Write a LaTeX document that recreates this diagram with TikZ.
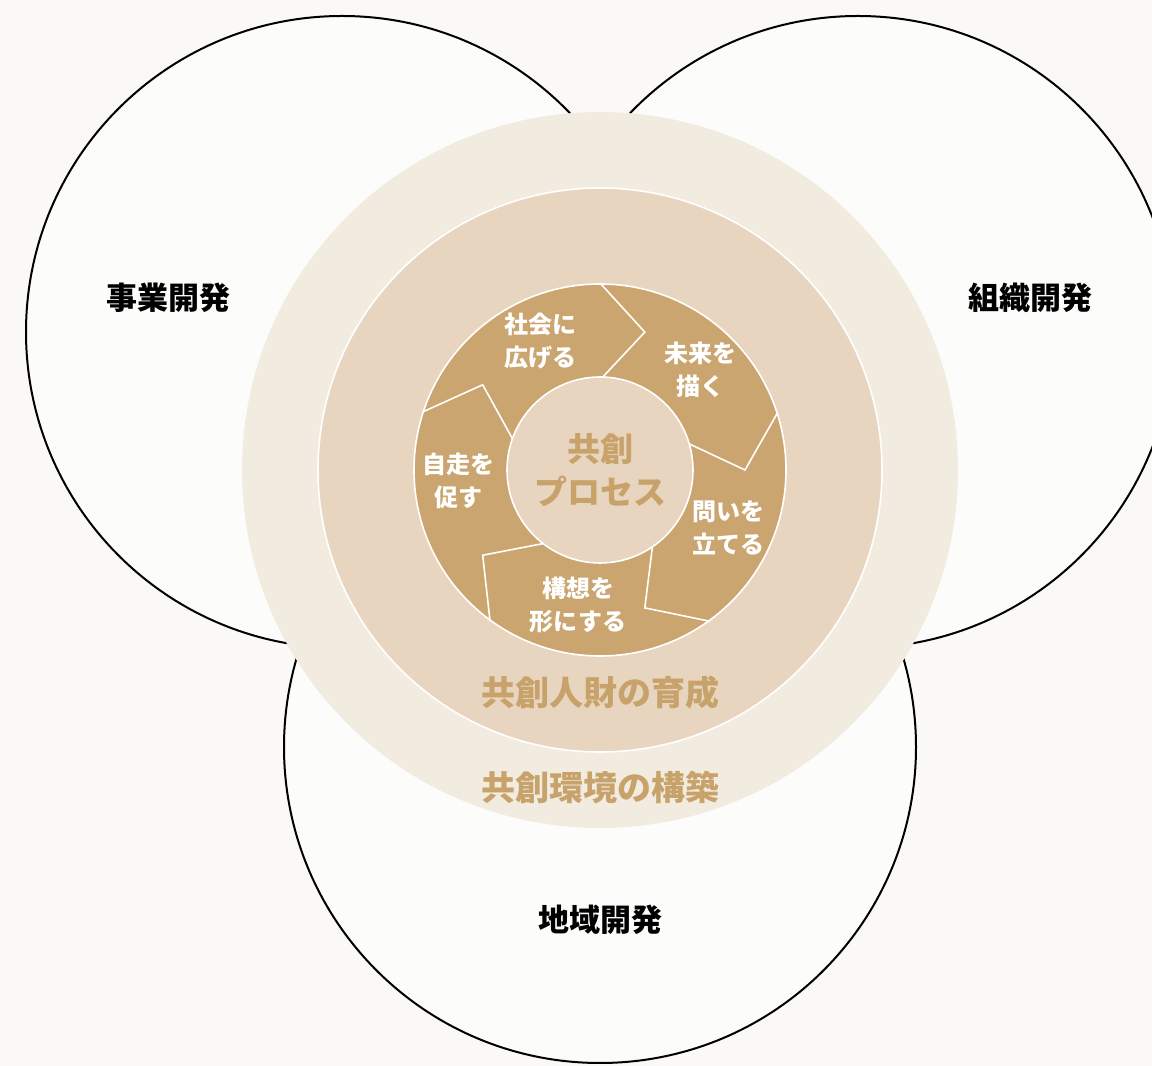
\documentclass[tikz,border=0pt]{standalone}
\usepackage{fontspec}
\setmainfont{Noto Sans CJK JP}
\definecolor{paper}{HTML}{FAF9F7}
\definecolor{fieldfill}{HTML}{FCFCFB}
\definecolor{ringout}{HTML}{F2EBDF}
\definecolor{ringmid}{HTML}{E8D5BF}
\definecolor{gold}{HTML}{CBA56F}
\definecolor{goldtext}{HTML}{C8A26B}
\tikzset{
    field/.style={draw=black, line width=2pt, fill=fieldfill},
    disc/.style={draw=white, line width=1.6pt},
    chevron/.style={draw=white, line width=1.6pt, line join=miter},
    fieldlabel/.style={font=\bfseries\fontsize{31}{36}\selectfont, text=black},
    ringlabel/.style={font=\bfseries\fontsize{34}{40}\selectfont, text=goldtext},
    corelabel/.style={font=\bfseries\fontsize{33}{43}\selectfont, text=goldtext, align=center},
    steplabel/.style={font=\bfseries\fontsize{24}{33}\selectfont, text=white, align=center},
}
\begin{document}
\begin{tikzpicture}[x=1pt, y=1pt]
    \useasboundingbox (0,0) rectangle (1152,1066);
    \clip (0,0) rectangle (1152,1066);
    \fill[paper] (0,0) rectangle (1152,1066);
    % three fields
    \draw[field] (342,734) circle[radius=316];
    \draw[field] (858,734) circle[radius=316];
    \draw[field] (600,319) circle[radius=316];
    % rings
    \coordinate (C) at (600,596);
    \fill[ringout] (C) circle[radius=358];
    \filldraw[disc, fill=ringmid] (C) circle[radius=282];
    \filldraw[disc, fill=gold] (C) circle[radius=186];
    \foreach \a in {90,18,...,-198}
        \draw[chevron, shift={(C)}] (\a:187) -- (\a-18:145) -- (\a:90);
    \filldraw[disc, fill=ringmid] (C) circle[radius=93];
    % labels
    \node[fieldlabel] (biz) at (168,768) {事業開発};
    \node[fieldlabel] (org) at (1030,768) {組織開発};
    \node[fieldlabel] (area) at (600,146) {地域開発};
    \node[ringlabel] (talent) at (600,373) {共創人財の育成};
    \node[ringlabel] (env) at (600,279) {共創環境の構築};
    \node[corelabel] (core) at (C) {共創\\プロセス};
    \node[steplabel] (spread) at (540,725) {社会に\\広げる};
    \node[steplabel] (future) at (700,696) {未来を\\描く};
    \node[steplabel] (ask) at (728,538) {問いを\\立てる};
    \node[steplabel] (shape) at (578,461) {構想を\\形にする};
    \node[steplabel] (self) at (458,585) {自走を\\促す};
\end{tikzpicture}
\end{document}
